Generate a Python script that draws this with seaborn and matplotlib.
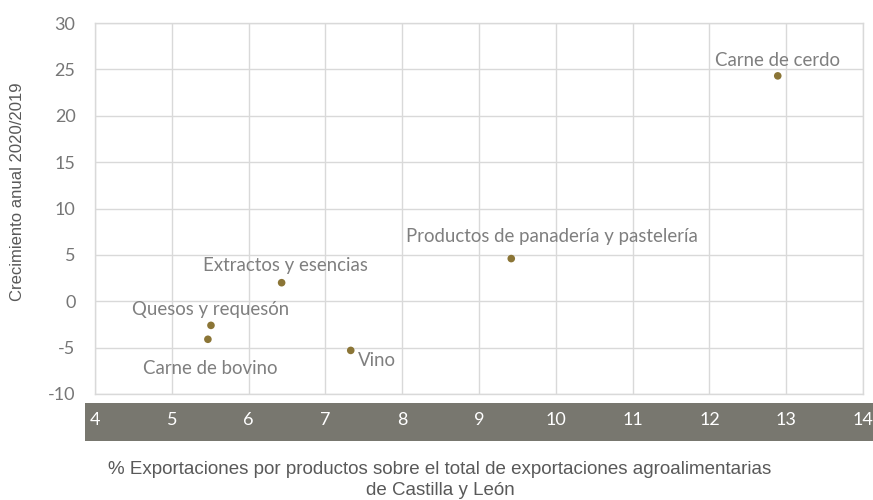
import matplotlib
matplotlib.use("Agg")
import matplotlib.pyplot as plt
from matplotlib.patches import Rectangle
import seaborn as sns
import pandas as pd

# Export share (%) and year-on-year growth per product
productos = ["Carne de cerdo", "Productos de panadería y pastelería",
             "Extractos y esencias", "Quesos y requesón",
             "Carne de bovino", "Vino"]
cuota = [12.89, 9.42, 6.43, 5.51, 5.47, 7.33]
crecimiento = [24.3, 4.6, 2.0, -2.6, -4.1, -5.3]

x_ticks = [4, 5, 6, 7, 8, 9, 10, 11, 12, 13, 14]
y_ticks = [-10, -5, 0, 5, 10, 15, 20, 25, 30]

df = pd.DataFrame({"producto": productos, "cuota": cuota, "crecimiento": crecimiento})

sns.set_style("white")
plt.rcParams["font.family"] = ["Lato", "DejaVu Sans"]

W, H = 873, 500
fig = plt.figure(figsize=(W / 100, H / 100), dpi=100)
ax = fig.add_axes([95 / W, 1 - 394 / H, (863 - 95) / W, (394 - 23) / H])
ax.set_facecolor("none")

# dark band behind the x tick labels
fig.patches.append(Rectangle((85 / W, 1 - 441 / H), 1 - 85 / W, (441 - 403) / H,
                             transform=fig.transFigure, facecolor="#78776F",
                             edgecolor="none", zorder=-1))

sns.scatterplot(data=df, x="cuota", y="crecimiento", ax=ax, color="#8B7536",
                s=30, edgecolor="none", zorder=3, clip_on=False)

ax.set_xlim(4, 14)
ax.set_ylim(-10, 30)
ax.set_xticks(x_ticks)
ax.set_yticks(y_ticks)
ax.set_xticklabels([str(v) for v in x_ticks])
ax.set_yticklabels([str(v) for v in y_ticks])
ax.grid(True, color="#D9D9D9", linewidth=1)
ax.set_axisbelow(True)
for s in ax.spines.values():
    s.set_visible(True)
    s.set_color("#D9D9D9")
    s.set_linewidth(1)
ax.tick_params(axis="x", length=0, pad=13, labelsize=13, labelcolor="white")
ax.tick_params(axis="y", length=0, pad=14, labelsize=13, labelcolor="#767676")

ax.set_xlabel("")
ax.set_ylabel("")

# point labels: (dx, dy) offsets in points, alignment
offsets = {
    "Carne de cerdo": (0, 5, "center", "bottom"),
    "Productos de panadería y pastelería": (29, 10, "center", "bottom"),
    "Extractos y esencias": (3, 6, "center", "bottom"),
    "Quesos y requesón": (0, 5, "center", "bottom"),
    "Carne de bovino": (2, -15, "center", "top"),
    "Vino": (5, -1, "left", "top"),
}
for p, xv, yv in zip(productos, cuota, crecimiento):
    dx, dy, ha, va = offsets[p]
    ax.annotate(p, (xv, yv), xytext=(dx, dy), textcoords="offset points",
                ha=ha, va=va, fontsize=13.4, color="#7F7F7F")

fig.text(18 / W, 1 - 192 / H, "Crecimiento anual 2020/2019", rotation=90,
         ha="center", va="center", fontsize=12, color="#595959",
         family=["Liberation Sans", "DejaVu Sans"])
fig.text(440 / W, 1 - 480 / H,
         "% Exportaciones por productos sobre el total de exportaciones agroalimentarias\nde Castilla y León",
         ha="center", va="center", fontsize=13.5, color="#595959", linespacing=1.28,
         family=["Liberation Sans", "DejaVu Sans"])

fig.savefig("out.png", dpi=100)
